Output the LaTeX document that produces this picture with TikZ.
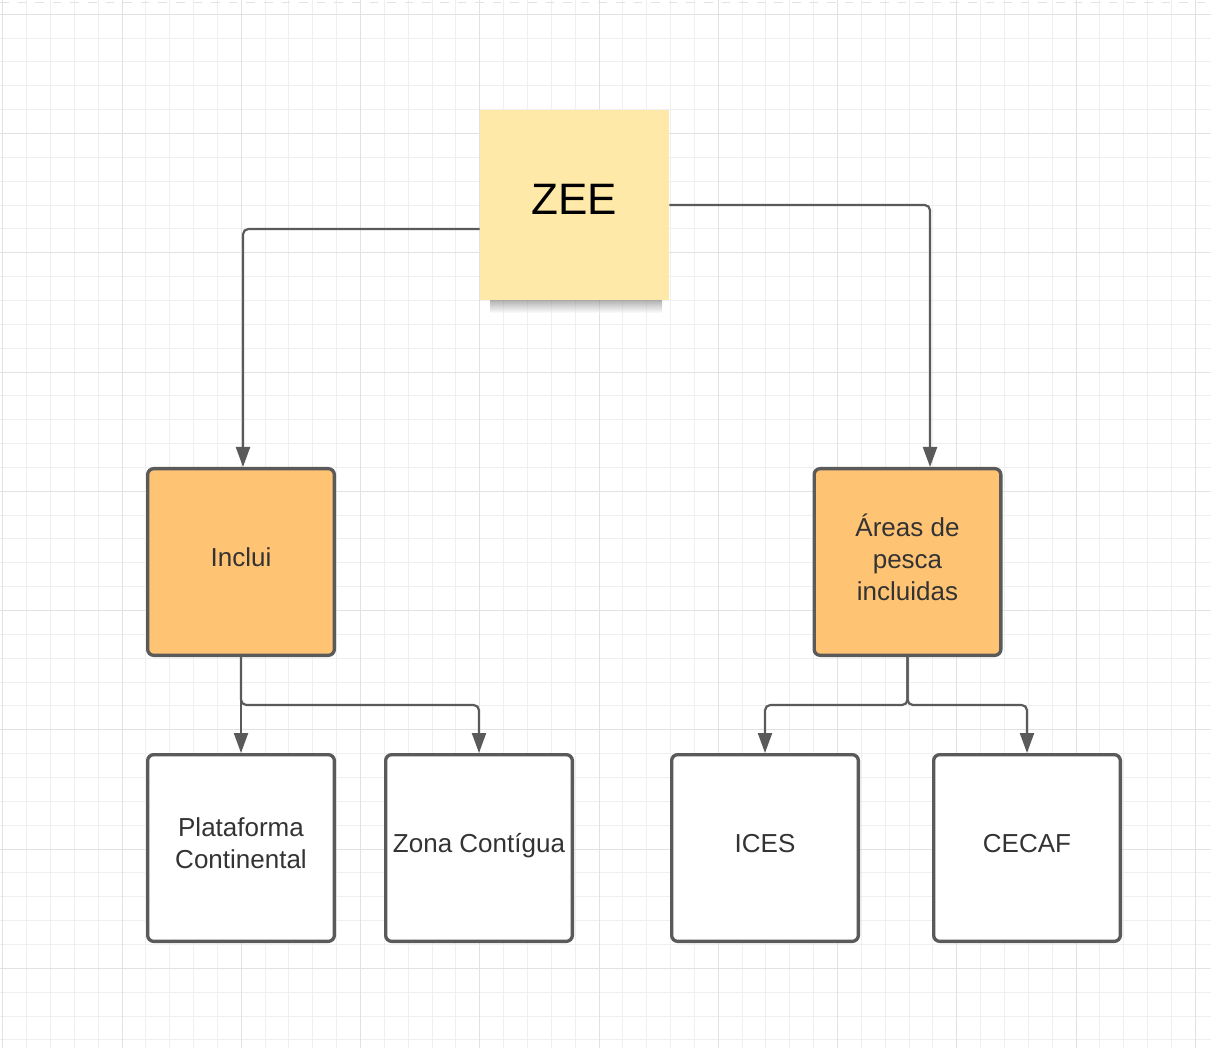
\documentclass[tikz,border=0pt]{standalone}
\usepackage{fontspec}
\setmainfont{Liberation Sans}
\usetikzlibrary{arrows.meta}
\definecolor{zeeyellow}{HTML}{FFE9A8}
\definecolor{boxorange}{HTML}{FFC374}
\definecolor{edgegray}{HTML}{5A5A5A}
\definecolor{textgray}{HTML}{333333}
\definecolor{gridminor}{HTML}{EFEFEF}
\definecolor{gridmajor}{HTML}{E2E2E2}

\begin{document}
\begin{tikzpicture}[x=0.75pt,y=-0.75pt,
    box/.style={rectangle, draw=edgegray, line width=2.5pt, rounded corners=4.5pt,
      minimum width=140pt, minimum height=140pt, inner sep=0pt, align=center,
      text=textgray, text depth=7pt, font=\fontsize{19.5}{24}\selectfont},
    orangebox/.style={box, fill=boxorange},
    whitebox/.style={box, fill=white},
    note/.style={rectangle, fill=zeeyellow, minimum width=142pt, minimum height=142pt,
      inner sep=0pt, text depth=9pt, font=\fontsize{33}{40}\selectfont},
    conn/.style={draw=edgegray, line width=1.65pt, rounded corners=4pt,
      -{Triangle[width=10.5pt,length=15pt]}},
    minorline/.style={draw=gridminor, line width=0.75pt},
    majorline/.style={draw=gridmajor, line width=0.75pt}]
            \useasboundingbox[fill=white] (0,0) rectangle (1211,1048);
            % background grid
            \foreach \i in {0,...,50}
                \draw[minorline] ({2.75+23.85*\i},0) -- ({2.75+23.85*\i},1048);
            \foreach \j in {0,...,43}
                \draw[minorline] (0,{14.3+23.85*\j}) -- (1211,{14.3+23.85*\j});
            \foreach \i in {0,...,10}
                \draw[majorline] ({2.75+119.25*\i},0) -- ({2.75+119.25*\i},1048);
            \foreach \j in {0,...,8}
                \draw[majorline] (0,{14.3+119.25*\j}) -- (1211,{14.3+119.25*\j});
            \draw[majorline, dash pattern=on 6.4pt off 6.8pt] (0,3) -- (1211,3);

            % sticky note shadow
            \shade[top color=black!60, bottom color=white, opacity=0.55]
                (490,299) rectangle (662,313);
            \node[note] (zee) at (574.5,205) {ZEE};
            \node[orangebox] (inc) at (241,562) {Inclui};
            \node[orangebox] (areas) at (907.5,562) {Áreas de\\pesca\\incluidas};
            \node[whitebox] (plat) at (241,848) {Plataforma\\Continental};
            \node[whitebox] (zona) at (479,848) {Zona Contígua};
            \node[whitebox] (ices) at (765,848) {ICES};
            \node[whitebox] (cecaf) at (1027,848) {CECAF};

            \coordinate (incj) at (241,705);
            \coordinate (areasj) at (907.5,705);

            \draw[conn] ([yshift=-18pt]zee.west) -| ([xshift=1.5pt]inc.north);
            \draw[conn] (zee.east) -| ([xshift=16.9pt]areas.north);
            \draw[conn] (inc.south) -- (plat.north);
            \draw[conn] (inc.south) -- (incj) -| (zona.north);
            \draw[conn] (areas.south) -- (areasj) -| (ices.north);
            \draw[conn] (areas.south) -- (areasj) -| (cecaf.north);
        \end{tikzpicture}
\end{document}
